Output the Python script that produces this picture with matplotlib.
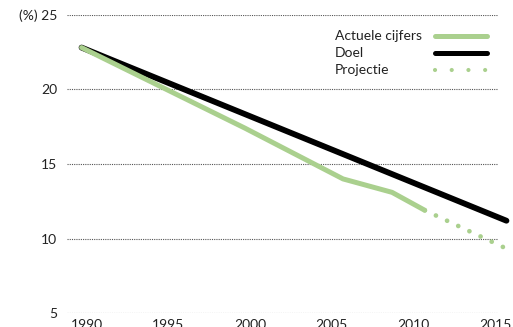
import matplotlib
matplotlib.use("Agg")
import matplotlib.pyplot as plt
import matplotlib.transforms as mtransforms
from matplotlib.lines import Line2D

# values
actual_years = [1990, 2000, 2006, 2009, 2011]
actual_values = [22.8, 17.4, 14.0, 13.1, 11.9]
proj_years = [2011, 2016.45]
proj_values = [11.9, 9.1]
target_years = [1990, 2016]
target_values = [22.8, 11.2]

x_ticks = [1990, 1995, 2000, 2005, 2010, 2015]
y_ticks = [5, 10, 15, 20, 25]
y_labels = ["5", "10", "15", "20", "(%) 25"]
legend_labels = ["Actuele cijfers", "Doel", "Projectie"]

GREEN = "#aad08e"
plt.rcParams["font.family"] = ["Lato", "DejaVu Sans"]

fig = plt.figure(figsize=(5.13, 3.27), dpi=100)
ax = fig.add_axes([0.130, 0.042, 0.841, 0.913])

ax.plot(target_years, target_values, color="black", lw=4.2,
        solid_capstyle="round", clip_on=False, zorder=3)
ax.plot(proj_years, proj_values, color=GREEN, lw=3.4, ls=(0, (0.01, 2.6)),
        dash_capstyle="round", clip_on=False, zorder=4)
ax.plot(actual_years, actual_values, color=GREEN, lw=3.6,
        solid_capstyle="round", solid_joinstyle="round", clip_on=False, zorder=5)

ax.set_xlim(1989.09, 2015.49)
ax.set_ylim(5, 25)
ax.set_xticks(x_ticks)
ax.set_xticklabels([str(y) for y in x_ticks])
ax.set_yticks(y_ticks)
ax.set_yticklabels(y_labels)
ax.tick_params(length=0, labelsize=10, colors="#222222")
ax.tick_params(axis="y", pad=7)
ax.tick_params(axis="x", pad=4)
shift = mtransforms.ScaledTranslation(5 / 100, 0, fig.dpi_scale_trans)
for lab in ax.get_xticklabels():
    lab.set_transform(lab.get_transform() + shift)

ax.grid(axis="y", color="#555555", lw=0.8, ls=(0, (1, 1)))
ax.grid(axis="x", visible=False)
for s in ax.spines.values():
    s.set_visible(False)

# legend: labels left-aligned, handles in a column to the right
text_y = [0.930, 0.871, 0.815]
for lab, ty in zip(legend_labels, text_y):
    ax.text(0.622, ty, lab, transform=ax.transAxes, fontsize=10,
            va="center", ha="left", color="#222222")
handles = [
    Line2D([], [], color=GREEN, lw=3.6, solid_capstyle="round"),
    Line2D([], [], color="black", lw=3.6, solid_capstyle="round"),
    Line2D([], [], color=GREEN, lw=3.0, ls=(0, (0.01, 4.0)), dash_capstyle="round"),
]
ax.legend(handles, ["", "", ""], loc="upper left", bbox_to_anchor=(0.853, 0.946),
          frameon=False, fontsize=10, handlelength=3.75, handletextpad=0,
          borderpad=0, borderaxespad=0, labelspacing=0.37)

fig.savefig("out.png", dpi=100)
